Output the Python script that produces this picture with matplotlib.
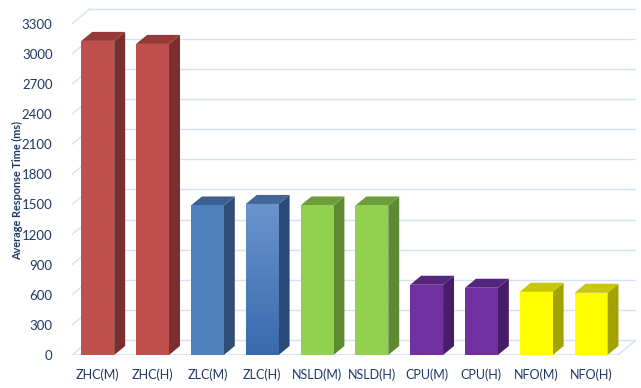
import numpy as np
import matplotlib
matplotlib.use("Agg")
import matplotlib.pyplot as plt
from matplotlib.patches import Polygon

plt.rcParams['font.family'] = ['Lato', 'DejaVu Sans']

# data
labels = ["ZHC(M)", "ZHC(H)", "ZLC(M)", "ZLC(H)", "NSLD(M)", "NSLD(H)",
          "CPU(M)", "CPU(H)", "NFO(M)", "NFO(H)"]
values = [3130, 3100, 1490, 1505, 1490, 1490, 700, 670, 630, 620]
yticks = list(range(0, 3301, 300))

front_cols = ["#C0504D", "#C0504D", "#4F81BD", "#4F81BD", "#92D050", "#92D050",
              "#7030A0", "#7030A0", "#FFFF00", "#FFFF00"]
side_cols = ["#7A2E2D", "#7A2E2D", "#2F4D75", "#2A4A78", "#5E8A31", "#5E8A31",
             "#461D66", "#461D66", "#A3A300", "#A3A300"]
top_cols = ["#963A38", "#963A38", "#3C6190", "#44679A", "#6E9E3B", "#6E9E3B",
            "#55267D", "#55267D", "#C8C800", "#C8C800"]

text_col = "#203864"
grid_col = "#D6E2F3"

fig = plt.figure(figsize=(6.41, 3.88), dpi=100)
ax = fig.add_axes([72 / 641, 33 / 388, (636 - 72) / 641, 347.2 / 388])

xl, xr = -0.47, 9.82
ax.set_xlim(xl, xr)
ax.set_ylim(0, 3460)

# depth of the wall and of the bars (data units)
wdx, wdy = 0.33, 150
bdx, bdy = 0.2, 90
w = 0.6

# walls / grid
for v in yticks:
    ax.plot([xl, xl + wdx], [v, v + wdy], color=grid_col, lw=1, zorder=1)
    ax.plot([xl + wdx, xr], [v + wdy, v + wdy], color=grid_col, lw=1, zorder=1)
ax.plot([xl, xr - wdx], [0, 0], color=grid_col, lw=1.2, zorder=1)
ax.plot([xr - wdx, xr], [0, wdy], color=grid_col, lw=1, zorder=1)

x = np.arange(len(labels))
bars = ax.bar(x, values, width=w, color=front_cols, zorder=3)

for i, v in enumerate(values):
    x0, x1 = i - w / 2, i + w / 2
    side = Polygon([(x1, 0), (x1 + bdx, bdy), (x1 + bdx, v + bdy), (x1, v)],
                   closed=True, facecolor=side_cols[i], edgecolor="none", zorder=2.5)
    top = Polygon([(x0, v), (x1, v), (x1 + bdx, v + bdy), (x0 + bdx, v + bdy)],
                  closed=True, facecolor=top_cols[i], edgecolor="none", zorder=2.5)
    ax.add_patch(side)
    ax.add_patch(top)

# gradient on ZLC(H)
b = bars[3]
grad = np.linspace(0, 1, 100).reshape(-1, 1)
cmap = matplotlib.colors.LinearSegmentedColormap.from_list("g", ["#386AAE", "#6A94CD"])
im = ax.imshow(grad, cmap=cmap, aspect="auto", origin="lower",
               extent=[3 - w / 2, 3 + w / 2, 0, values[3]], zorder=3.5)
im.set_clip_path(b)
ax.set_xlim(xl, xr)
ax.set_ylim(0, 3460)

ax.set_yticks(yticks)
ax.set_yticklabels([str(t) for t in yticks], fontsize=9.5, color=text_col)
ax.set_xticks(x)
ax.set_xticklabels(labels, fontsize=9, color=text_col)
ax.tick_params(axis="both", length=0)
ax.tick_params(axis="y", pad=14)
ax.tick_params(axis="x", pad=10)
for s in ax.spines.values():
    s.set_visible(False)

fig.text(18 / 641, 0.51, "Average Response Time (ms)", rotation=90, ha="center",
         va="center", fontsize=7.8, fontweight="bold", color=text_col)

fig.savefig("out.png", dpi=100)
